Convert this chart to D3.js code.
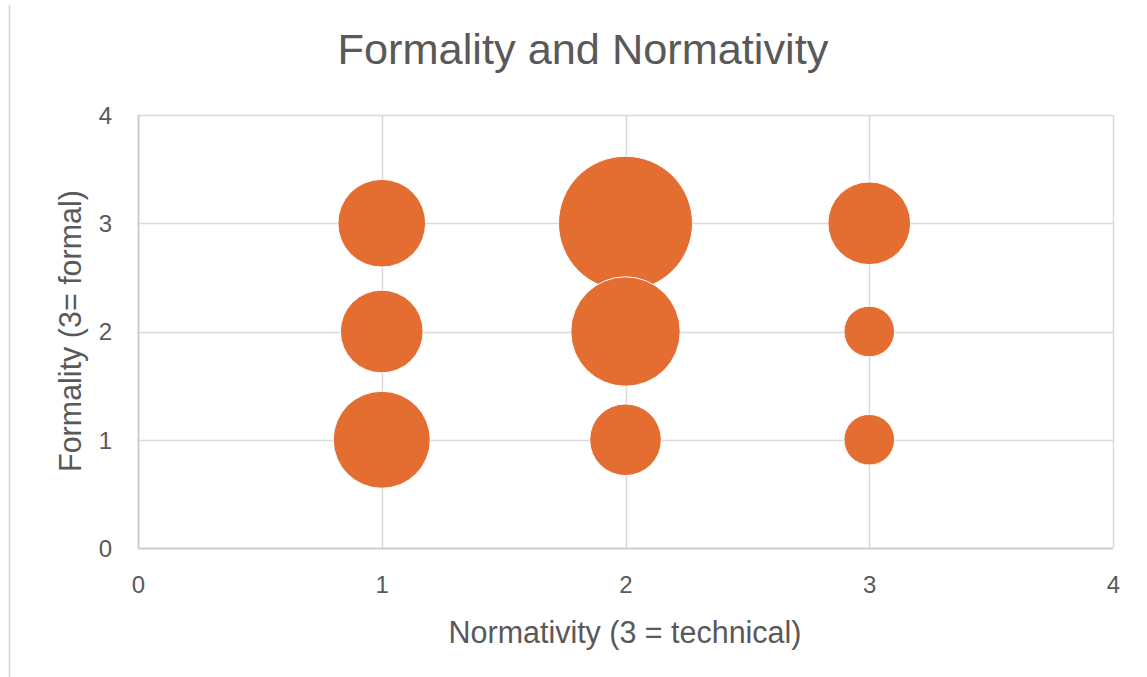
<!DOCTYPE html>
<html>
<head>
<meta charset="utf-8">
<script src="https://cdn.jsdelivr.net/npm/d3@7"></script>
<style>
  html, body { margin: 0; padding: 0; background: #fff; }
  svg { display: block; }
</style>
</head>
<body>
<svg id="chart" width="1147" height="677"></svg>
<script>
// ---- data ----
const normativity = [1, 1, 1, 2, 2, 2, 3, 3, 3];        // x
const formality   = [3, 2, 1, 3, 2, 1, 3, 2, 1];        // y
const sizes       = [9, 8, 11, 21, 14, 6, 8, 3, 3];     // bubble size
const xTicks = [0, 1, 2, 3, 4];
const yTicks = [0, 1, 2, 3, 4];
const titleText = "Formality and Normativity";
const xTitle = "Normativity (3 = technical)";
const yTitle = "Formality (3= formal)";

const W = 1147, H = 677;
const plot = { left: 138, right: 1113, top: 115, bottom: 548 };
const textColor = "#595959";
const gridColor = "#d9d9d9";
const bubbleColor = "#E46D31";
const font = "'Liberation Sans', Arial, sans-serif";

const svg = d3.select("#chart");
svg.append("rect").attr("width", W).attr("height", H).attr("fill", "#fff");
// left frame line
svg.append("line").attr("x1", 9.5).attr("x2", 9.5).attr("y1", 5).attr("y2", H)
  .attr("stroke", "#d4d4d4").attr("stroke-width", 1.5);

const x = d3.scaleLinear().domain([0, 4]).range([plot.left, plot.right]);
const y = d3.scaleLinear().domain([0, 4]).range([plot.bottom, plot.top]);
const r = d3.scaleSqrt().domain([0, d3.max(sizes)]).range([0, 67]);

// gridlines
const g = svg.append("g");
g.selectAll("line.h").data(yTicks).join("line")
  .attr("x1", plot.left).attr("x2", plot.right)
  .attr("y1", d => Math.round(y(d)) + 0.5).attr("y2", d => Math.round(y(d)) + 0.5)
  .attr("stroke", gridColor).attr("stroke-width", 1.5);
g.selectAll("line.v").data(xTicks).join("line")
  .attr("y1", plot.top).attr("y2", plot.bottom)
  .attr("x1", d => Math.round(x(d)) + 0.5).attr("x2", d => Math.round(x(d)) + 0.5)
  .attr("stroke", gridColor).attr("stroke-width", 1.5);
// axis lines slightly darker
g.append("line").attr("x1", plot.left).attr("x2", plot.right)
  .attr("y1", y(0) + 0.5).attr("y2", y(0) + 0.5).attr("stroke", "#c8c8c8").attr("stroke-width", 1.5);
g.append("line").attr("x1", x(0) + 0.5).attr("x2", x(0) + 0.5)
  .attr("y1", plot.top).attr("y2", plot.bottom).attr("stroke", "#c8c8c8").attr("stroke-width", 1.5);

// axes (labels only)
const xAxis = d3.axisBottom(x).tickValues(xTicks).tickSize(0).tickPadding(0).tickFormat(d3.format("d"));
const yAxis = d3.axisLeft(y).tickValues(yTicks).tickSize(0).tickPadding(0).tickFormat(d3.format("d"));
const gx = svg.append("g").attr("transform", `translate(0,${plot.bottom + 37})`).call(xAxis);
const gy = svg.append("g").attr("transform", `translate(${plot.left - 26},0)`).call(yAxis);
[gx, gy].forEach(a => {
  a.attr("font-size", null).attr("font-family", null);
  a.select(".domain").remove();
  a.selectAll("text").attr("fill", textColor).style("font-family", font).style("font-size", "24px");
});
gx.selectAll("text").attr("dy", "0.35em");
gy.selectAll("text").attr("dy", "0.35em");

// bubbles
const data = normativity.map((d, i) => ({ x: d, y: formality[i], s: sizes[i] }))
  .sort((a, b) => b.s - a.s);
svg.append("g").selectAll("circle").data(data).join("circle")
  .attr("cx", d => x(d.x)).attr("cy", d => y(d.y)).attr("r", d => r(d.s))
  .attr("fill", bubbleColor).attr("stroke", "#fff").attr("stroke-width", 1);

// titles
function fitText(sel, targetWidth, startSize) {
  let size = startSize;
  sel.style("font-size", size + "px");
  const w = sel.node().getComputedTextLength();
  size = size * targetWidth / w;
  sel.style("font-size", size + "px");
}
const t = svg.append("text").attr("x", 583).attr("y", 49).attr("dy", "0.35em")
  .attr("text-anchor", "middle").attr("fill", textColor).style("font-family", font).text(titleText);
fitText(t, 491, 32);

const xt = svg.append("text").attr("x", 625).attr("y", 632).attr("dy", "0.35em")
  .attr("text-anchor", "middle").attr("fill", textColor).style("font-family", font).text(xTitle);
fitText(xt, 353, 22);

const yt = svg.append("text").attr("transform", "translate(70,331) rotate(-90)").attr("dy", "0.35em")
  .attr("text-anchor", "middle").attr("fill", textColor).style("font-family", font).text(yTitle);
fitText(yt, 282, 22);
</script>
</body>
</html>
